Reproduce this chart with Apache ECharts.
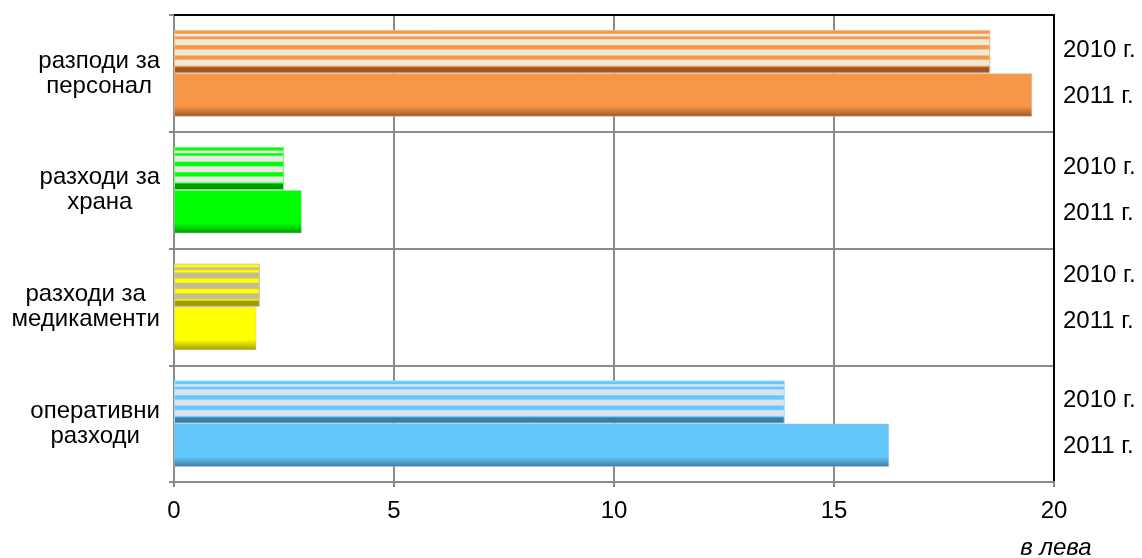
<!DOCTYPE html>
<html>
<head>
<meta charset="utf-8">
<script src="https://cdn.jsdelivr.net/npm/echarts@6/dist/echarts.min.js"></script>
<style>html,body{margin:0;padding:0;background:#fff}#c{width:1142px;height:558px}</style>
</head>
<body>
<div id="c"></div>
<script>
// ---- data ----
var categories = ['разподи за\nперсонал', 'разходи за\nхрана', 'разходи за\nмедикаменти', 'оперативни\nразходи'];
var values2010 = [18.55, 2.5, 1.95, 13.88];
var values2011 = [19.5, 2.9, 1.87, 16.25];
var yearLabels = ['2010 г.', '2011 г.'];
var xTicks = [0, 5, 10, 15, 20];
var unitLabel = 'в лева';

// ---- styles ----
var baseColors = ['#F79646', '#00FF00', '#FFFF00', '#63C7FC'];
var darkColors = ['#9A5A28', '#009A00', '#9C9C00', '#3C7CA0'];
var lightStripe = ['#EEEAD8', '#E8E8E8', '#C6BC92', '#DDE3EE'];
var borderColors = ['#F9B27A', '#66FF66', '#CFC59C', '#9ADCFF'];

function stripes(i) {
  var b = baseColors[i], l = lightStripe[i], d = darkColors[i];
  var st = [
    [0, b], [0.07, b], [0.10, l], [0.13, l], [0.16, b],
    [0.19, b], [0.22, l], [0.33, l], [0.36, b],
    [0.43, b], [0.46, l], [0.57, l], [0.60, b],
    [0.67, b], [0.70, l], [0.81, l], [0.84, b],
    [0.87, d], [1, d]
  ];
  return { type: 'linear', x: 0, y: 0, x2: 0, y2: 1,
    colorStops: st.map(function (s) { return { offset: s[0], color: s[1] }; }) };
}
function solid(i) {
  return { type: 'linear', x: 0, y: 0, x2: 0, y2: 1,
    colorStops: [{ offset: 0, color: baseColors[i] }, { offset: 0.76, color: baseColors[i] }, { offset: 1, color: darkColors[i] }] };
}

var font = 'Liberation Sans, Arial, sans-serif';
var FS = 24;
var chart = echarts.init(document.getElementById('c'), null, { renderer: 'canvas' });

var richCat = { a: { align: 'center', fontSize: FS, lineHeight: 25, color: '#000', fontFamily: font } };
var richYear = {
  m: { fontSize: FS, lineHeight: 46, color: '#000', fontFamily: font },
  s: { fontSize: 1, lineHeight: 17 }
};

chart.setOption({
  animation: false,
  grid: { left: 174, right: 88, top: 15, bottom: 76 },
  xAxis: [{
    type: 'value', min: 0, max: 20, interval: 5, position: 'bottom',
    axisLine: { show: true, lineStyle: { color: '#8A8A8A', width: 2 } },
    axisTick: { show: true, length: 5, lineStyle: { color: '#8A8A8A', width: 2 } },
    axisLabel: { margin: 17, fontSize: FS, color: '#000', fontFamily: font,
      formatter: function (v) { return xTicks.indexOf(v) >= 0 ? String(v) : ''; } },
    splitLine: { show: true, lineStyle: { color: '#8A8A8A', width: 2 } }
  }, {
    type: 'value', min: 0, max: 20, position: 'top',
    axisLine: { show: true, onZero: false, lineStyle: { color: '#000', width: 2 } },
    axisTick: { show: false }, axisLabel: { show: false }, splitLine: { show: false }
  }],
  yAxis: [{
    type: 'category', data: categories, inverse: true, position: 'left',
    axisLine: { show: true, lineStyle: { color: '#8A8A8A', width: 2 } },
    axisTick: { show: true, length: 5, lineStyle: { color: '#8A8A8A', width: 2 } },
    splitLine: { show: true, lineStyle: { color: '#8A8A8A', width: 2 } },
    axisLabel: { margin: 14, rich: richCat,
      formatter: function (v) { return v.split('\n').map(function (s) { return '{a|' + s + '}'; }).join('\n'); } }
  }, {
    type: 'category', data: categories, inverse: true, position: 'right',
    axisLine: { show: true, onZero: false, lineStyle: { color: '#000', width: 2 } },
    axisTick: { show: false }, splitLine: { show: false },
    axisLabel: { margin: 9, rich: richYear,
      formatter: function (v, idx) {
        var t = yearLabels.map(function (s) { return '{m|' + s + '}'; }).join('\n');
        return idx === 2 ? t + '\n{s| }' : t;
      } }
  }],
  series: [{
    name: '2010', type: 'bar', xAxisIndex: 0, yAxisIndex: 0,
    barGap: '0%', barCategoryGap: '26%',
    data: values2010.map(function (v, i) {
      return { value: v, itemStyle: { color: stripes(i), borderColor: borderColors[i], borderWidth: 1 } };
    })
  }, {
    name: '2011', type: 'bar', xAxisIndex: 0, yAxisIndex: 0,
    barGap: '0%', barCategoryGap: '26%',
    data: values2011.map(function (v, i) {
      return { value: v, itemStyle: { color: solid(i), borderColor: '#C8C8C8', borderWidth: 0.5 } };
    })
  }],
  graphic: [{
    type: 'text', x: 1056, y: 548,
    style: { text: unitLabel, font: 'italic ' + FS + 'px ' + font, fill: '#000',
      textAlign: 'center', textVerticalAlign: 'middle' }
  }]
});
</script>
</body>
</html>
